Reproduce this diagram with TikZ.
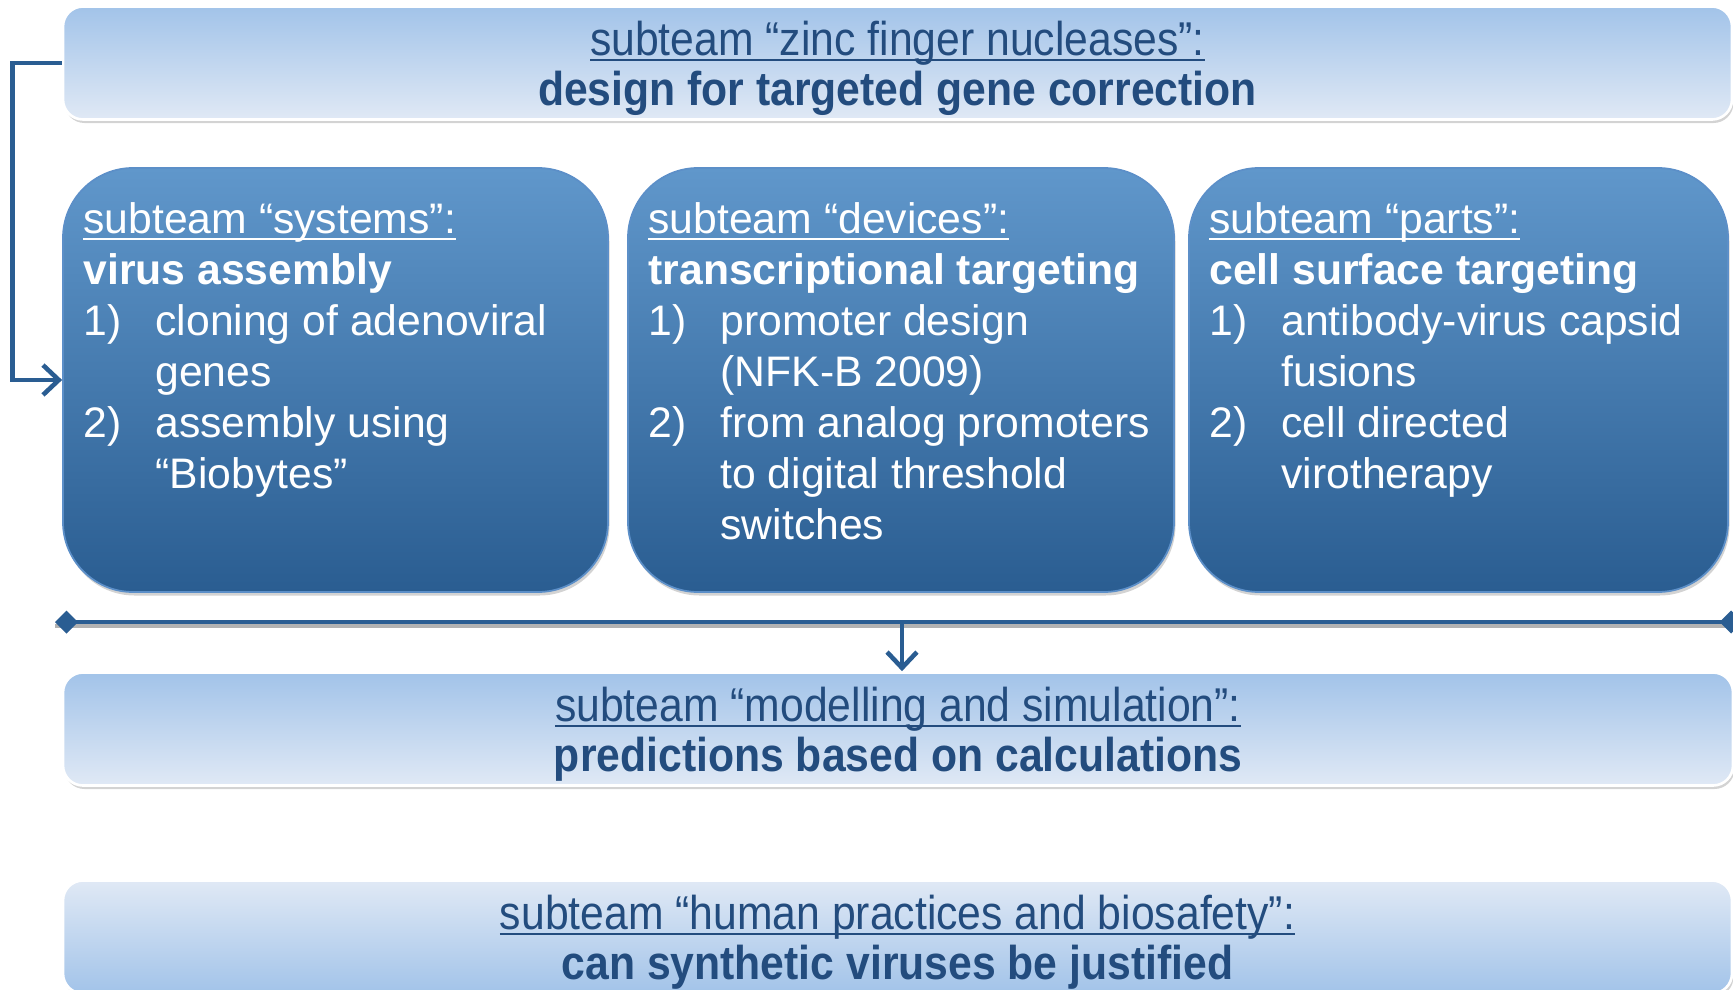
\documentclass[tikz,border=0pt]{standalone}
\usepackage{fontspec}
\setmainfont{Liberation Sans}
\newfontfamily\narrowfont[FakeStretch=0.9]{Liberation Sans}
\usetikzlibrary{positioning,arrows.meta,shadows}

\definecolor{darktop}{HTML}{6097CB}
\definecolor{darkbot}{HTML}{2A5D91}
\definecolor{darkrim}{HTML}{5C8FC8}
\definecolor{lighttop}{HTML}{A2C3E9}
\definecolor{lightbot}{HTML}{E0E9F5}
\definecolor{navytext}{HTML}{234C7E}
\definecolor{connblue}{HTML}{2A5D92}

\newsavebox{\ulbox}
\newcommand{\subul}[1]{\sbox{\ulbox}{#1}\rlap{\rule[-3.5pt]{\wd\ulbox}{1.4pt}}\usebox{\ulbox}}
\newcommand{\nr}[1]{\makebox[1.44cm][l]{#1}}
\newcommand{\cont}{\hspace*{1.44cm}}

\begin{document}
\begin{tikzpicture}[
    lightbox/.style={rounded corners=0.4cm, draw=white, line width=1.5pt,
      top color=lighttop, bottom color=lightbot,
      drop shadow={shadow xshift=0.03cm, shadow yshift=-0.07cm, opacity=0.35},
      minimum height=2.26cm},
    lighttext/.style={text=navytext, align=center, inner sep=0pt, yshift=-0.1cm,
      font=\narrowfont\fontsize{27}{28.5}\selectfont},
    darkbox/.style={rounded corners=1.4cm, draw=darkrim, line width=1pt,
      top color=darktop, bottom color=darkbot,
      drop shadow={shadow xshift=0.03cm, shadow yshift=-0.07cm, opacity=0.35},
      minimum height=8.48cm},
    listtext/.style={text=white, align=left, inner sep=0pt,
      font=\fontsize{24.3}{29}\selectfont},
    conn/.style={connblue, line width=2.5pt},
    arrowhead/.style={-{Straight Barb[length=9pt,width=17pt,line width=2.6pt]}},
    endmark/.style={{Diamond[length=0.46cm,width=0.46cm]}-{Diamond[length=0.46cm,width=0.46cm]}}
  ]
        \useasboundingbox (0,0) rectangle (34.66,-19.8);
        \clip (0,0) rectangle (34.66,-19.8);

        % top
        \node[lightbox, minimum width=33.38cm] (zinc) at (17.95,-1.26) {};
        \node[lighttext] (zinctext) at (zinc.center)
            {\subul{subteam “zinc finger nucleases”:}\\\textbf{design for targeted gene correction}};

        % three subteams
        \node[darkbox, minimum width=10.9cm] (sys) at (6.71,-7.6) {};
        \node[darkbox, minimum width=10.92cm] (dev) at (18.02,-7.6) {};
        \node[darkbox, minimum width=10.78cm] (parts) at (29.17,-7.6) {};

        \node[listtext, below right=0.71cm and 0.42cm of sys.north west] (systext)
            {\subul{subteam “systems”:}\\\textbf{virus assembly}\\
             \nr{1)}cloning of adenoviral\\\cont genes\\
             \nr{2)}assembly using\\\cont “Biobytes”};
        \node[listtext, below right=0.71cm and 0.42cm of dev.north west] (devtext)
            {\subul{subteam “devices”:}\\\textbf{transcriptional targeting}\\
             \nr{1)}promoter design\\\cont (NFK-B 2009)\\
             \nr{2)}from analog promoters\\\cont to digital threshold\\\cont switches};
        \node[listtext, below right=0.71cm and 0.42cm of parts.north west] (partstext)
            {\subul{subteam “parts”:}\\\textbf{cell surface targeting}\\
             \nr{1)}antibody-virus capsid\\\cont fusions\\
             \nr{2)}cell directed\\\cont virotherapy};

        % lower boxes
        \node[lightbox, minimum width=33.4cm] (model) at (17.96,-14.58) {};
        \node[lighttext] (modeltext) at (model.center)
            {\subul{subteam “modelling and simulation”:}\\\textbf{predictions based on calculations}};
        \node[lightbox, minimum width=33.38cm, top color=lightbot, bottom color=lighttop] (human) at (17.95,-18.74) {};
        \node[lighttext] (humantext) at (human.center)
            {\subul{subteam “human practices and biosafety”:}\\\textbf{can synthetic viruses be justified}};

        % connectors
        \coordinate (bl) at (1.1,-12.44);
        \coordinate (br) at (34.85,-12.44);
        \coordinate (join) at (18.04,-12.44);
        \draw[black!30, line width=2.5pt] ([yshift=-0.08cm]bl) -- ([yshift=-0.08cm]br);
        \draw[conn, line width=2.8pt, endmark] (bl) -- (br);
        \draw[conn, arrowhead] (join) -- (join |- model.north);
        \draw[conn, arrowhead] (zinc.west) -- ++(-0.98,0) |- (sys.west);
    \end{tikzpicture}
\end{document}
